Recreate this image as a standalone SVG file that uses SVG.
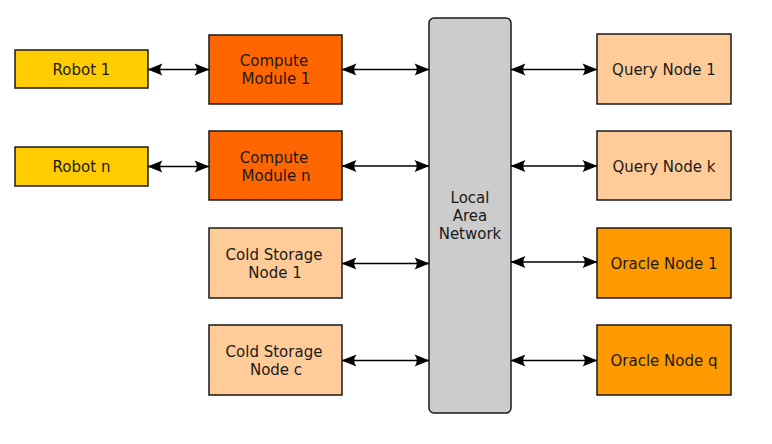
<svg xmlns="http://www.w3.org/2000/svg" width="772" height="444" viewBox="0 0 772 444">
<style>
.box{stroke:#1a1a1a;stroke-width:1.5}
.robot{fill:#ffcc00}
.compute{fill:#ff6600}
.light{fill:#ffcc99}
.oracle{fill:#ff9900}
.lan{fill:#cccccc}
text{font-family:"DejaVu Sans",sans-serif;font-size:15px;fill:#1a1a1a;text-anchor:middle}
.conn line{stroke:#000;stroke-width:1.5;marker-start:url(#ah);marker-end:url(#ah)}
</style>
<defs>
<marker id="ah" markerUnits="userSpaceOnUse" markerWidth="16" markerHeight="13" refX="15" refY="6.5" orient="auto-start-reverse" viewBox="0 0 16 13">
<path d="M15.5,6.5 L0.5,0.5 Q5,6.5 0.5,12.5 Z" fill="#000"/>
</marker>
</defs>
<g id="robot1"><rect class="box robot" x="15" y="50" width="133" height="38"/><text x="81.5" y="75">Robot 1</text></g>
<g id="robotn"><rect class="box robot" x="15" y="147" width="133" height="39"/><text x="81.5" y="172">Robot n</text></g>
<g id="compute1"><rect class="box compute" x="209" y="35" width="133" height="69"/><text x="274" y="66">Compute</text><text x="276" y="84">Module 1</text></g>
<g id="computen"><rect class="box compute" x="209" y="131" width="133" height="69"/><text x="274" y="163">Compute</text><text x="276" y="181">Module n</text></g>
<g id="cold1"><rect class="box light" x="209" y="228" width="133" height="70"/><text x="274" y="260">Cold Storage</text><text x="275" y="278">Node 1</text></g>
<g id="coldc"><rect class="box light" x="209" y="325" width="133" height="70"/><text x="274" y="357">Cold Storage</text><text x="276" y="375">Node c</text></g>
<g id="lan"><rect class="box lan" x="429" y="18" width="82" height="395" rx="5"/><text x="470" y="203">Local</text><text x="470" y="221">Area</text><text x="470" y="239">Network</text></g>
<g id="query1"><rect class="box light" x="597" y="34" width="134" height="70"/><text x="664" y="75">Query Node 1</text></g>
<g id="queryk"><rect class="box light" x="597" y="131" width="134" height="69"/><text x="664" y="172">Query Node k</text></g>
<g id="oracle1"><rect class="box oracle" x="597" y="228" width="134" height="70"/><text x="664" y="269">Oracle Node 1</text></g>
<g id="oracleq"><rect class="box oracle" x="597" y="325" width="134" height="70"/><text x="664" y="366">Oracle Node q</text></g>
<g id="connectors" class="conn">
<line x1="148" y1="69.5" x2="209" y2="69.5"/>
<line x1="148" y1="166.5" x2="209" y2="166.5"/>
<line x1="342" y1="69.5" x2="429" y2="69.5"/>
<line x1="342" y1="166" x2="429" y2="166"/>
<line x1="342" y1="263.5" x2="429" y2="263.5"/>
<line x1="342" y1="360.5" x2="429" y2="360.5"/>
<line x1="511" y1="69.5" x2="597" y2="69.5"/>
<line x1="511" y1="166" x2="597" y2="166"/>
<line x1="511" y1="262" x2="597" y2="262"/>
<line x1="511" y1="360.5" x2="597" y2="360.5"/>
</g>
</svg>
